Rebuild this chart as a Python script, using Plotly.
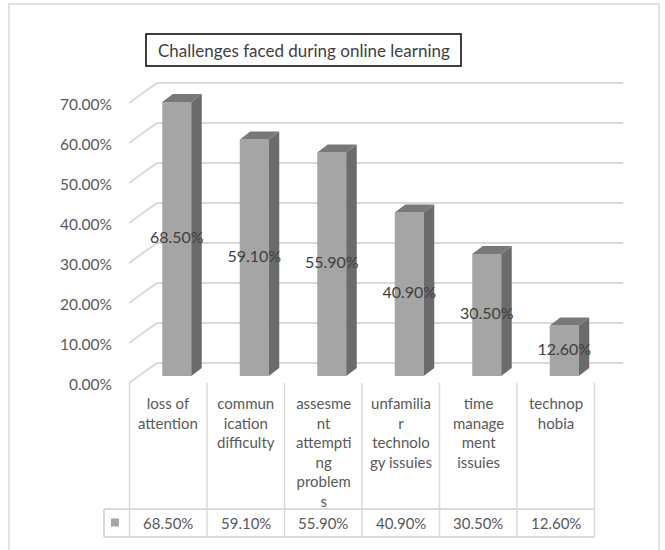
import plotly.graph_objects as go

# ---------------- data ----------------
categories = [
    "loss of<br>attention",
    "commun<br>ication<br>difficulty",
    "assesme<br>nt<br>attempti<br>ng<br>problem<br>s",
    "unfamilia<br>r<br>technolo<br>gy issuies",
    "time<br>manage<br>ment<br>issuies",
    "technop<br>hobia",
]
values = [0.685, 0.591, 0.559, 0.409, 0.305, 0.126]
tick_values = [0.0, 0.1, 0.2, 0.3, 0.4, 0.5, 0.6, 0.7]
title_text = "Challenges faced during online learning"

# ---------------- geometry (pixels) ----------------
W, H = 665, 550
COL_W = 77.5            # px per category
COL0_LEFT = 129.5       # left edge of first table column
X0 = COL0_LEFT + COL_W / 2   # pixel of category 0
PX_PER_UNIT = 400.0     # px per 1.0 (100%)
BASE_PY = 376.0         # pixel of bar front baseline
LABEL_BASE_PY = 384.5   # pixel of 0% tick label
BACK_DY = 13.0          # back wall offset (px up) from bar front
FLOOR_FRONT_DY = 7.0    # floor front offset (px down)
WALL_LEFT_PX, WALL_RIGHT_PX, DIAG_LEFT_PX = 157.0, 623.0, 129.0
BAR_SHIFT_PX, BAR_HALF_PX = 8.5, 14.5
DEPTH_DX_PX, DEPTH_DY_PX = 10.5, 8.0

def xu(px):   # pixel -> x data
    return (px - X0) / COL_W

def yu(py):   # pixel -> y data (bar axis)
    return (BASE_PY - py) / PX_PER_UNIT

def pyp(py):  # pixel -> paper y
    return 1 - py / H

def pxp(px):
    return px / W

grid = "#d9d9d9"
front_col, side_col, top_col = "#a5a5a5", "#6b6b6b", "#787878"
txt = "#595959"
FONT = "Lato"

fig = go.Figure()

# back-wall gridlines + perspective diagonals
gx, gy = [], []
for v in tick_values:
    back = v + BACK_DY / PX_PER_UNIT
    front = v - FLOOR_FRONT_DY / PX_PER_UNIT
    gx += [xu(DIAG_LEFT_PX), xu(WALL_LEFT_PX), xu(WALL_RIGHT_PX), None]
    gy += [front, back, back, None]
fig.add_trace(go.Scatter(x=gx, y=gy, mode="lines", line=dict(color=grid, width=2),
                         hoverinfo="skip", showlegend=False))

hw = BAR_HALF_PX / COL_W
sh = BAR_SHIFT_PX / COL_W
ddx = DEPTH_DX_PX / COL_W
ddy = DEPTH_DY_PX / PX_PER_UNIT
for i, v in enumerate(values):
    xl, xr = i + sh - hw, i + sh + hw
    # front face
    fig.add_trace(go.Scatter(x=[xl, xr, xr, xl, xl], y=[0, 0, v, v, 0], fill="toself",
                             fillcolor=front_col, mode="lines", line=dict(width=0, color=front_col),
                             hoverinfo="skip", showlegend=False))
    # side face
    fig.add_trace(go.Scatter(x=[xr, xr + ddx, xr + ddx, xr, xr], y=[0, ddy, v + ddy, v, 0],
                             fill="toself", fillcolor=side_col, mode="lines",
                             line=dict(width=0, color=side_col), hoverinfo="skip", showlegend=False))
    # top face
    fig.add_trace(go.Scatter(x=[xl, xr, xr + ddx, xl + ddx, xl], y=[v, v, v + ddy, v + ddy, v],
                             fill="toself", fillcolor=top_col, mode="lines",
                             line=dict(width=0, color=top_col), hoverinfo="skip", showlegend=False))

# data labels
fig.add_trace(go.Scatter(x=[i + sh for i in range(len(values))], y=[v / 2 for v in values],
                         mode="text", text=[f"{v*100:.2f}%" for v in values],
                         textfont=dict(family=FONT, size=16, color="#404040"),
                         textposition="middle center", hoverinfo="skip", showlegend=False))

# ---------------- table ----------------
shapes = []
TBL_TOP, ROW_TOP, ROW_BOT, ROW_LEFT = 383.0, 509.0, 537.0, 104.0
n = len(categories)
for k in range(n + 1):
    shapes.append(dict(type="line", xref="x", yref="paper", x0=k - 0.5, x1=k - 0.5,
                       y0=pyp(TBL_TOP), y1=pyp(ROW_BOT), line=dict(color=grid, width=1.5)))
for py in (ROW_TOP, ROW_BOT):
    shapes.append(dict(type="line", xref="paper", yref="paper", x0=pxp(ROW_LEFT),
                       x1=pxp(COL0_LEFT + n * COL_W), y0=pyp(py), y1=pyp(py),
                       line=dict(color=grid, width=2)))
shapes.append(dict(type="line", xref="paper", yref="paper", x0=pxp(ROW_LEFT), x1=pxp(ROW_LEFT),
                   y0=pyp(ROW_TOP), y1=pyp(ROW_BOT), line=dict(color=grid, width=2)))
# legend key
shapes.append(dict(type="rect", xref="paper", yref="paper", x0=pxp(111), x1=pxp(119),
                   y0=pyp(526.5), y1=pyp(518.5), fillcolor=front_col, line=dict(width=0)))
# outer frame
shapes.append(dict(type="rect", xref="paper", yref="paper", x0=pxp(9), x1=pxp(659),
                   y0=pyp(565), y1=pyp(4), line=dict(color=grid, width=1.5)))
# title box
shapes.append(dict(type="rect", xref="paper", yref="paper", x0=pxp(146), x1=pxp(461),
                   y0=pyp(66), y1=pyp(34), line=dict(color="black", width=1.5)))

annotations = []
for i, c in enumerate(categories):
    annotations.append(dict(x=i, y=pyp(392), xref="x", yref="paper", text=c, showarrow=False,
                            xanchor="center", yanchor="top", align="center",
                            font=dict(family=FONT, size=15, color=txt)))
    annotations.append(dict(x=i, y=pyp(523), xref="x", yref="paper", text=f"{values[i]*100:.2f}%",
                            showarrow=False, xanchor="center", yanchor="middle",
                            font=dict(family=FONT, size=15, color=txt)))
annotations.append(dict(x=pxp(303.5), y=pyp(50), xref="paper", yref="paper", text=title_text,
                        showarrow=False, xanchor="center", yanchor="middle",
                        font=dict(family=FONT, size=17, color="#404040")))

fig.update_layout(
    width=W, height=H, autosize=False,
    margin=dict(l=0, r=0, t=0, b=0),
    paper_bgcolor="white", plot_bgcolor="rgba(0,0,0,0)",
    showlegend=False,
    xaxis=dict(domain=[0, 1], range=[xu(0), xu(W)], visible=False, fixedrange=True),
    yaxis=dict(domain=[0, 1], range=[yu(H), yu(0)], visible=False, fixedrange=True),
    yaxis2=dict(overlaying="y", anchor="free", position=pxp(112), side="left",
                range=[(LABEL_BASE_PY - H) / PX_PER_UNIT, LABEL_BASE_PY / PX_PER_UNIT],
                tickvals=tick_values, tickformat=".2%", ticks="", showgrid=False,
                zeroline=False, showline=False,
                tickfont=dict(family=FONT, size=15.5, color=txt), fixedrange=True),
    shapes=shapes,
    annotations=annotations,
)
# dummy invisible trace so yaxis2 renders
fig.add_trace(go.Scatter(x=[0], y=[0], yaxis="y2", mode="markers", marker=dict(opacity=0),
                         hoverinfo="skip", showlegend=False))

fig.write_html("out.html")
